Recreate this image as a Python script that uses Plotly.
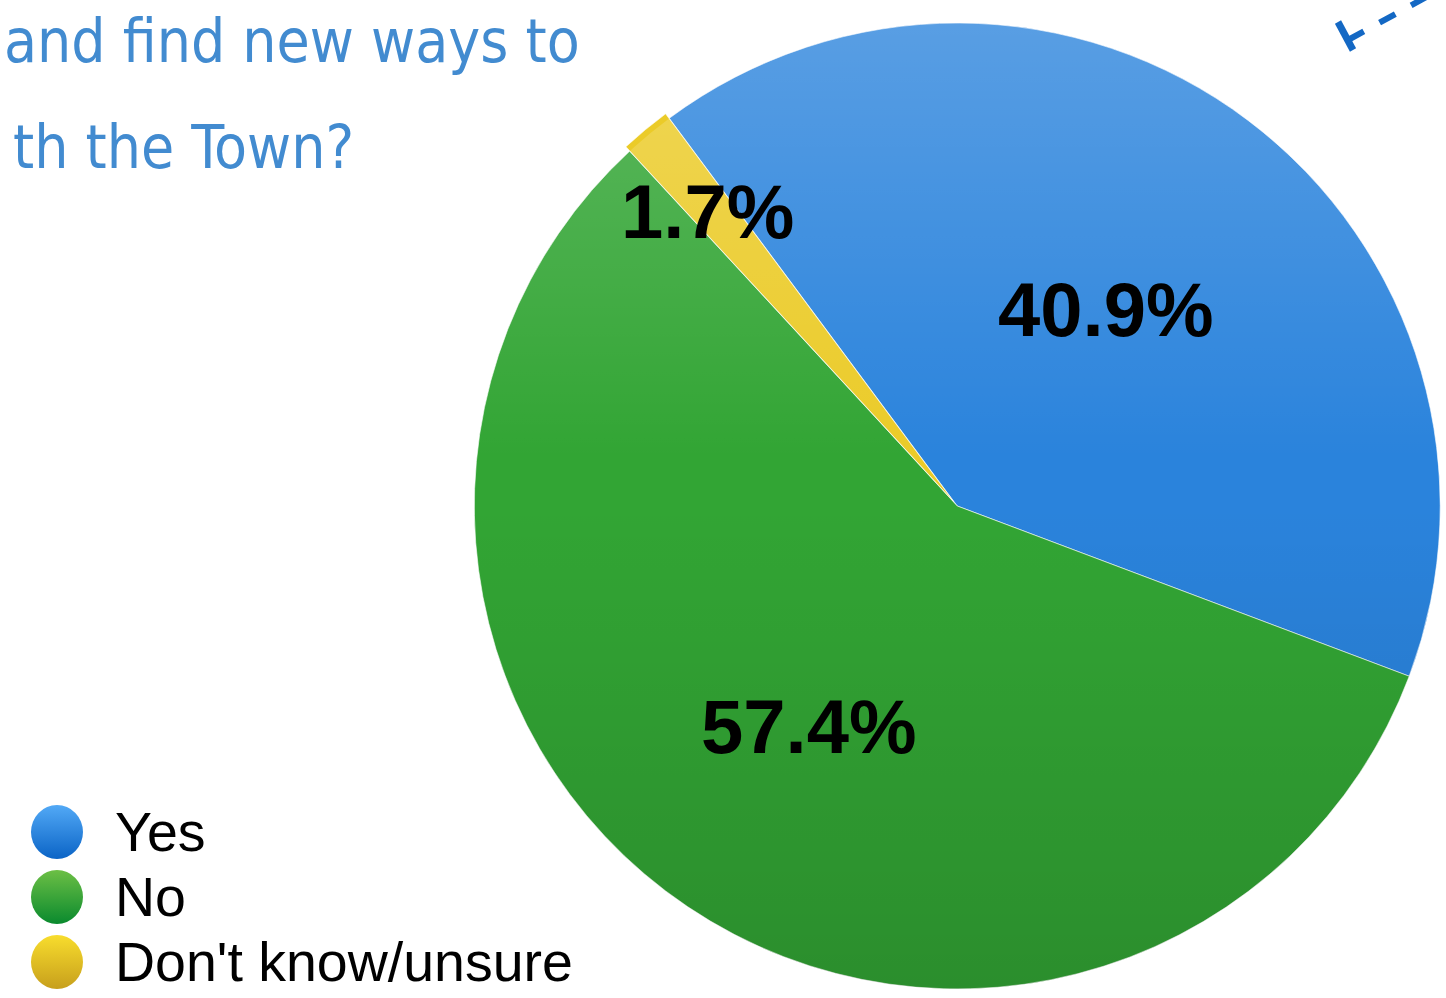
import math
import base64
import plotly.graph_objects as go

# ---- data ----
labels = ["Yes", "No", "Don't know/unsure"]
values = [40.9, 57.4, 1.7]
value_text = ["40.9%", "57.4%", "1.7%"]
colors = ["#2a83dc", "#32a534", "#ebcb28"]
legend_top = ["#52a9f6", "#6cbf45", "#f8dd2d"]
legend_bottom = ["#0b64c6", "#0a8a2e", "#c79f1c"]
pulls = [0, 0, 0.012]
title_lines = ["and find new ways to", "th the Town?"]

W, H = 1446, 998
dom_x = [0.324, 1.0]
dom_y = [0.0, 0.986]
rotation = -36.6

fig = go.Figure()
fig.add_trace(go.Pie(
    labels=labels, values=values, sort=False, direction="clockwise",
    rotation=rotation, pull=pulls, textinfo="none", hoverinfo="label+percent",
    marker=dict(colors=colors, line=dict(color="white", width=0.6)),
    domain=dict(x=dom_x, y=dom_y), showlegend=False,
))

# pie geometry (same as plotly's own pie scaling)
bw, bh = (dom_x[1] - dom_x[0]) * W, (dom_y[1] - dom_y[0]) * H
r_px = min(bw, bh) / 2 / (1 + max(pulls))
cx = (dom_x[0] + dom_x[1]) / 2
cy = (dom_y[0] + dom_y[1]) / 2


def svg_uri(svg):
    return "data:image/svg+xml;base64," + base64.b64encode(svg.encode()).decode()


# soft vertical shading over the pie (light top, dark bottom)
shade_svg = (
    '<svg xmlns="http://www.w3.org/2000/svg" viewBox="0 0 100 100" preserveAspectRatio="none">'
    '<defs><linearGradient id="g" x1="0" y1="0" x2="0" y2="1">'
    '<stop offset="0" stop-color="#ffffff" stop-opacity="0.22"/>'
    '<stop offset="0.45" stop-color="#ffffff" stop-opacity="0"/>'
    '<stop offset="0.5" stop-color="#000000" stop-opacity="0"/>'
    '<stop offset="1" stop-color="#000000" stop-opacity="0.14"/>'
    '</linearGradient></defs><circle cx="50" cy="50" r="50" fill="url(#g)"/></svg>'
)
images = [dict(source=svg_uri(shade_svg), xref="paper", yref="paper", x=cx, y=cy,
               sizex=2 * r_px / W, sizey=2 * r_px / H, xanchor="center", yanchor="middle",
               sizing="stretch", layer="above")]

total = sum(values)
frac = [0.51, 0.55, 0.80]
ang_off = [0, 0, -0.6]
annotations = []
start = rotation
for i, v in enumerate(values):
    span = 360 * v / total
    mid = math.radians(start + span / 2 + ang_off[i])
    rr = r_px * frac[i]
    x = cx + rr * math.sin(mid) / W
    y = cy + rr * math.cos(mid) / H
    annotations.append(dict(
        x=x, y=y, xref="paper", yref="paper", text=value_text[i], showarrow=False,
        xanchor="center", yanchor="middle",
        font=dict(family="Liberation Sans, Arial, sans-serif", size=76, color="black", weight="bold"),
    ))
    start += span

# title (cut off at the left edge, as in the source)
title_font = dict(family="DejaVu Sans Condensed, Liberation Sans Narrow, Roboto Condensed, sans-serif",
                  size=60, color="#428bd0")
annotations.append(dict(x=582 / W, y=1 - 78 / H, xref="paper", yref="paper", text=title_lines[0],
                        showarrow=False, xanchor="right", yanchor="bottom", font=title_font))
annotations.append(dict(x=356 / W, y=1 - 184 / H, xref="paper", yref="paper", text=title_lines[1],
                        showarrow=False, xanchor="right", yanchor="bottom", font=title_font))

# custom legend with round, shaded markers
leg_y = [832, 897, 962]
for i, lab in enumerate(labels):
    yc = leg_y[i]
    dot_svg = (
        '<svg xmlns="http://www.w3.org/2000/svg" viewBox="0 0 100 100" preserveAspectRatio="none">'
        '<defs><linearGradient id="g" x1="0" y1="0" x2="0" y2="1">'
        f'<stop offset="0" stop-color="{legend_top[i]}"/>'
        f'<stop offset="1" stop-color="{legend_bottom[i]}"/>'
        '</linearGradient></defs><circle cx="50" cy="50" r="50" fill="url(#g)"/></svg>'
    )
    images.append(dict(source=svg_uri(dot_svg), xref="paper", yref="paper", x=57 / W, y=1 - yc / H,
                       sizex=52 / W, sizey=54 / H, xanchor="center", yanchor="middle",
                       sizing="stretch", layer="above"))
    annotations.append(dict(x=113 / W, y=1 - yc / H, xref="paper", yref="paper", text=lab,
                            showarrow=False, xanchor="left", yanchor="middle",
                            font=dict(family="Liberation Sans, Arial, sans-serif", size=55.5, color="black")))

# dashed decoration at top right
shapes = [
    dict(type="line", xref="paper", yref="paper",
         x0=1348 / W, y0=1 - 40 / H, x1=1450 / W, y1=1 - (-16) / H,
         line=dict(color="#1468c4", width=6, dash="dash")),
    dict(type="line", xref="paper", yref="paper",
         x0=1338 / W, y0=1 - 22 / H, x1=1353 / W, y1=1 - 50 / H,
         line=dict(color="#1468c4", width=7)),
]

fig.update_layout(
    width=W, height=H, margin=dict(l=0, r=0, t=0, b=0),
    paper_bgcolor="white", plot_bgcolor="white",
    annotations=annotations, shapes=shapes, images=images,
)
fig.write_html("out.html")
